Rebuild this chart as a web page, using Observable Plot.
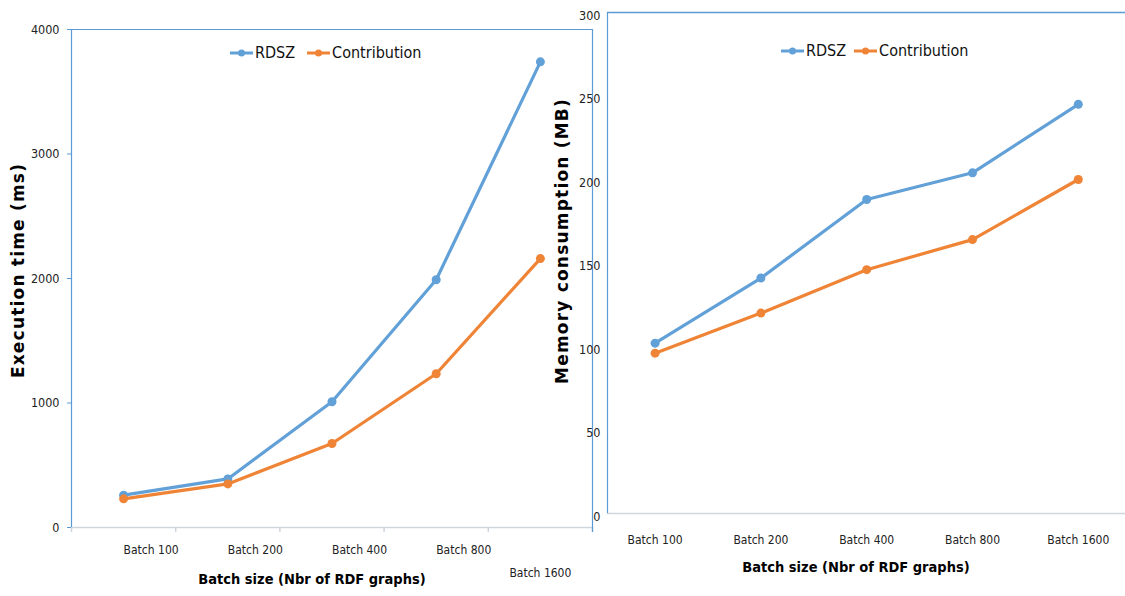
<!DOCTYPE html>
<html>
<head>
<meta charset="utf-8">
<script src="https://cdn.jsdelivr.net/npm/d3@7"></script>
<script src="https://cdn.jsdelivr.net/npm/@observablehq/plot@0.6"></script>
<style>
  html, body { margin: 0; padding: 0; background: #fff; overflow: hidden; }
  #wrap { position: relative; width: 1125px; height: 596px; overflow: hidden; }
  #wrap > .panel { position: absolute; top: 0; }
  .legend { position: absolute; display: flex; align-items: center; font-family: "Liberation Sans Narrow", "DejaVu Sans Condensed", sans-serif; font-size: 16px; color: #111; white-space: nowrap; }
  .legend .item { display: flex; align-items: center; }
</style>
</head>
<body>
<div id="wrap"></div>
<script>
const categories = ["Batch 100", "Batch 200", "Batch 400", "Batch 800", "Batch 1600"];
const seriesNames = ["RDSZ", "Contribution"];
const rdszTime = [260, 390, 1010, 1990, 3740];
const contribTime = [230, 350, 675, 1235, 2160];
const rdszMemory = [102, 141, 188, 204, 245];
const contribMemory = [96, 120, 146, 164, 200];
const timeTicks = [0, 1000, 2000, 3000, 4000];
const memoryTicks = [0, 50, 100, 150, 200, 250, 300];
const xTitle = "Batch size (Nbr of RDF graphs)";
const timeTitle = "Execution time (ms)";
const memoryTitle = "Memory consumption (MB)";

const BLUE = "#62A0D8", ORANGE = "#EF8436";
const colors = [BLUE, ORANGE];
const FRAME = "#5B9BD5";
const AXIS_GRAY = "#CDD5DF";
const NARROW = '"Liberation Sans Narrow", "DejaVu Sans Condensed", sans-serif';
const TITLE_FONT = '"DejaVu Sans", Verdana, sans-serif';

const idx = categories.map((d, i) => i);
const boundaries = d3.range(categories.length + 1).map(i => i - 0.5);

function rows(values) { return values.map((v, i) => ({i, v})); }

function seriesMarks(seriesList) {
  const marks = [];
  seriesList.forEach((vals, k) => {
    marks.push(Plot.line(rows(vals), {x: "i", y: "v", stroke: colors[k], strokeWidth: 3.2}));
    marks.push(Plot.dot(rows(vals), {x: "i", y: "v", fill: colors[k], r: 4.5}));
  });
  return marks;
}

const wrap = document.getElementById("wrap");

// ---------- Left panel: execution time ----------
const left = Plot.plot({
  width: 600, height: 596,
  marginLeft: 71, marginRight: 8, marginTop: 29, marginBottom: 69,
  style: {fontFamily: NARROW, fontSize: "12px", color: "#222", background: "transparent"},
  x: {domain: [-0.5, categories.length - 0.5], axis: null},
  y: {domain: [0, 4000], axis: null},
  marks: [
    Plot.ruleY([0], {stroke: AXIS_GRAY, strokeWidth: 1.5}),
    Plot.axisX({ticks: boundaries, tickFormat: () => "", tickSize: 5, stroke: AXIS_GRAY, strokeWidth: 1.5, label: null}),
    Plot.ruleY([4000], {stroke: FRAME, strokeWidth: 1.2}),
    Plot.ruleX([-0.5], {stroke: FRAME, strokeWidth: 1.2}),
    Plot.ruleX([categories.length - 0.5], {stroke: FRAME, strokeWidth: 1.2, y1: 4000, y2: 0, insetBottom: -5}),
    Plot.axisY({ticks: timeTicks, tickSize: 4, tickPadding: 8, stroke: FRAME, fill: "#222", fontSize: 12.5, tickFormat: d => String(d), label: null}),
    ...seriesMarks([rdszTime, contribTime]),
    Plot.text(categories, {x: idx, y: 0, dy: 23, textAnchor: "start", filter: (d, i) => i < categories.length - 1, fill: "#222", fontSize: 12}),
    Plot.text(categories, {x: idx, y: 0, dy: 46, textAnchor: "middle", filter: (d, i) => i === categories.length - 1, fill: "#222", fontSize: 12}),
    Plot.text([xTitle], {frameAnchor: "bottom", dy: 56, dx: -20, fontWeight: "bold", fontSize: 14.5, fill: "#000"}),
    Plot.text([timeTitle], {frameAnchor: "left", textAnchor: "middle", rotate: -90, dx: -53, dy: -8, fontWeight: "bold", fontSize: 17, fill: "#000", fontFamily: TITLE_FONT})
  ]
});
left.classList.add("panel");
left.style.left = "0px";
wrap.appendChild(left);

// ---------- Right panel: memory ----------
const right = Plot.plot({
  width: 600, height: 596,
  marginLeft: 67, marginRight: 4, marginTop: 12, marginBottom: 83,
  style: {fontFamily: NARROW, fontSize: "12px", color: "#222", background: "transparent"},
  x: {domain: [-0.45, categories.length - 0.45], axis: null},
  y: {domain: [0, 300], axis: null},
  marks: [
    Plot.ruleY([0], {stroke: AXIS_GRAY, strokeWidth: 1.5}),
    Plot.ruleY([300], {stroke: FRAME, strokeWidth: 1.5}),
    Plot.ruleX([-0.45], {stroke: FRAME, strokeWidth: 1.2}),
    Plot.axisY({ticks: memoryTicks, tickSize: 0, tickPadding: 7, fill: "#222", fontSize: 12.5, dy: 3, tickFormat: d => String(d), label: null}),
    ...seriesMarks([rdszMemory, contribMemory]),
    Plot.text(categories, {x: idx, y: 0, dy: 27, textAnchor: "middle", fill: "#222", fontSize: 12}),
    Plot.text([xTitle], {frameAnchor: "bottom", dy: 58, dx: -16, fontWeight: "bold", fontSize: 14.5, fill: "#000"}),
    Plot.text([memoryTitle], {frameAnchor: "left", textAnchor: "middle", rotate: -90, dx: -45, dy: -22, fontWeight: "bold", fontSize: 17, fill: "#000", fontFamily: TITLE_FONT})
  ]
});
right.classList.add("panel");
right.style.left = "540px";
wrap.appendChild(right);

// letter spacing for the wide bold y titles
[left, right].forEach(svg => {
  d3.select(svg).selectAll("text").filter(function() {
    const t = this.textContent;
    return t === timeTitle || t === memoryTitle;
  }).attr("letter-spacing", "1.2px");
});

// ---------- Legends ----------
function legend(x, y, gap) {
  const div = document.createElement("div");
  div.className = "legend";
  div.style.left = x + "px";
  div.style.top = (y - 11) + "px";
  seriesNames.forEach((name, k) => {
    const item = document.createElement("span");
    item.className = "item";
    if (k > 0) item.style.marginLeft = gap + "px";
    item.innerHTML = `<svg width="23" height="10" style="margin-right:2px"><line x1="0" x2="23" y1="5" y2="5" stroke="${colors[k]}" stroke-width="3"/><circle cx="11.5" cy="5" r="3.5" fill="${colors[k]}"/></svg><span>${name}</span>`;
    div.appendChild(item);
  });
  wrap.appendChild(div);
}
legend(230, 54, 12);
legend(781, 52, 8);
</script>
</body>
</html>
